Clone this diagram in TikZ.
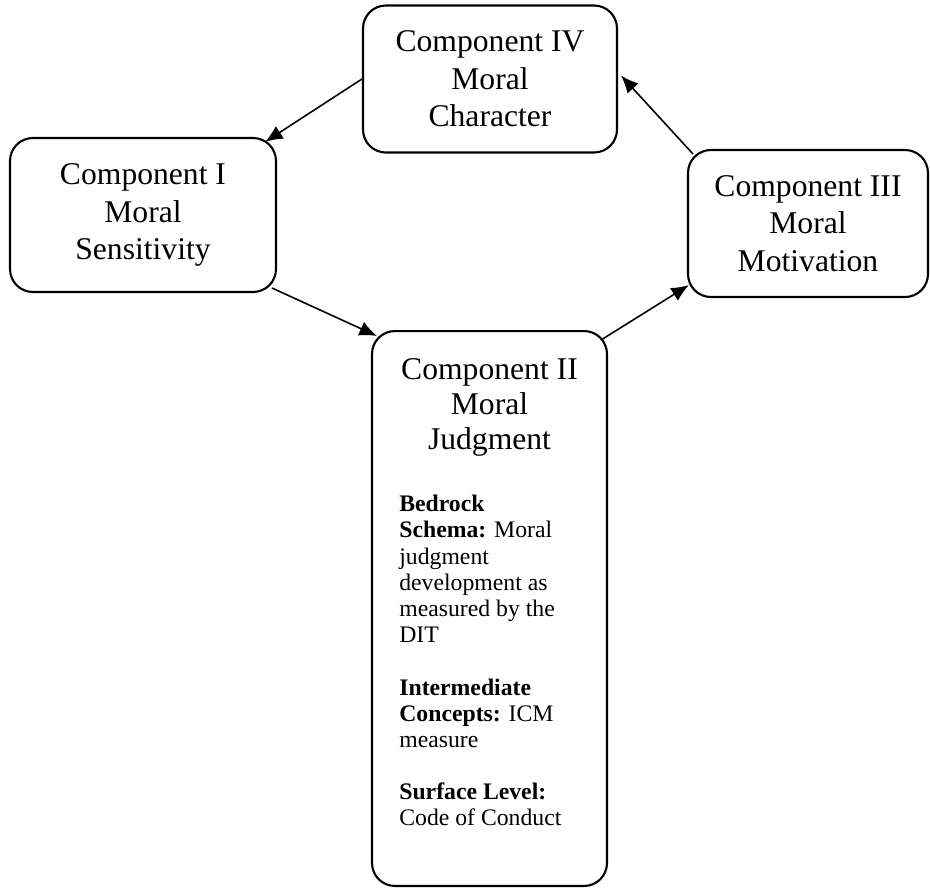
\documentclass[tikz,border=0pt]{standalone}
\usepackage{fontspec}
\setmainfont{Liberation Serif}
\usetikzlibrary{shapes,arrows.meta,positioning}

\tikzset{
  compbox/.style={draw, rounded corners=13pt, line width=1.2pt, align=center,
    font=\fontsize{18}{21.3}\selectfont, inner sep=0pt},
  cyclearrow/.style={-{Latex[length=10pt,width=8.5pt]}, line width=0.9pt}
}

\begin{document}
\begin{tikzpicture}[x=0.02cm, y=-0.02cm]
    \useasboundingbox (0,0) rectangle (930,892);
    % the four components
    \node[compbox, minimum width=5.08cm, minimum height=2.94cm] (charact) at (490,79)
        {Component IV\\Moral\\Character};
    \node[compbox, minimum width=5.32cm, minimum height=3.08cm] (sensit) at (143,215)
        {Component I\\Moral\\Sensitivity};
    \node[compbox, minimum width=4.8cm, minimum height=2.94cm] (motiv) at (808,223.5)
        {Component III\\Moral\\Motivation};
    \node[compbox, minimum width=4.7cm, minimum height=11.1cm] (judg) at (489.5,608.5) {};
    % text inside component II
    \node[align=center, font=\fontsize{18}{20}\selectfont, anchor=north, inner sep=0pt]
        (judghead) at ([yshift=-0.56cm]judg.north) {Component II\\Moral\\Judgment};
    \node[align=left, font=\fontsize{13.5}{14.9}\selectfont, anchor=north west, inner sep=0pt]
        (judgbody) at (399,495) {%
        \textbf{Bedrock}\\\textbf{Schema:} Moral\\judgment\\development as\\measured by the\\DIT\\[14.9pt]
        \textbf{Intermediate}\\\textbf{Concepts:} ICM\\measure\\[14.9pt]
        \textbf{Surface Level:}\\Code of Conduct};
    % arrows round the cycle
    \draw[cyclearrow] (charact.west) -- ([xshift=-0.24cm, yshift=-0.1cm]sensit.north east);
    \draw[cyclearrow] ([xshift=-0.1cm, yshift=0.1cm]sensit.south east) -- ([xshift=0.12cm, yshift=-0.12cm]judg.north west);
    \draw[cyclearrow] ([xshift=-0.14cm, yshift=-0.2cm]judg.north east) -- ([xshift=0.04cm, yshift=0.26cm]motiv.south west);
    \draw[cyclearrow] ([xshift=0.12cm, yshift=-0.1cm]motiv.north west) -- ([xshift=0.06cm, yshift=0.07cm]charact.east);
\end{tikzpicture}
\end{document}
